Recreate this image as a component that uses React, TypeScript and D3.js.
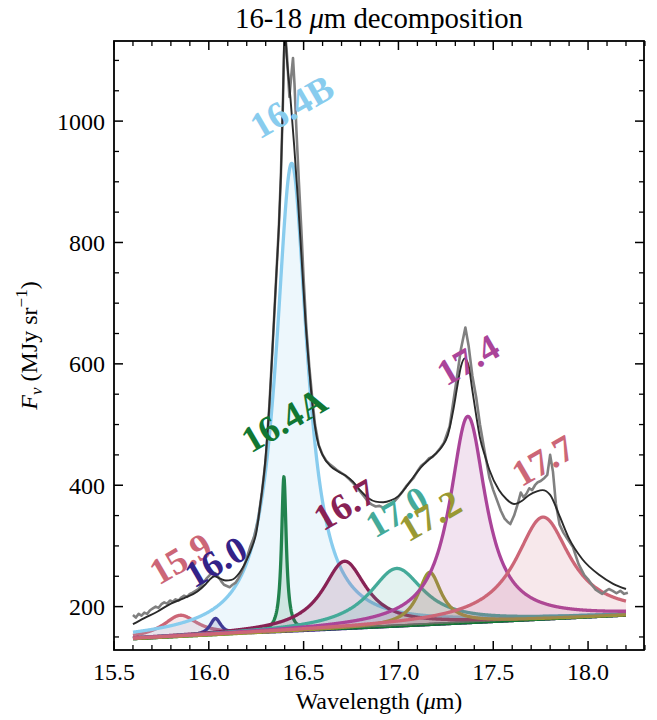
import React from 'react';
import * as d3 from 'd3';

// ---------- data ----------
const componentLabels = ['15.9', '16.0', '16.4A', '16.4B', '16.7', '17.0', '17.2', '17.4', '17.7'];
const componentCenters = [15.85, 16.035, 16.396, 16.437, 16.716, 16.99, 17.165, 17.366, 17.762];
const componentFwhm = [0.22, 0.07, 0.03, 0.2, 0.28, 0.35, 0.15, 0.23, 0.35];
const componentPeaks = [35, 27, 255, 771, 111, 95, 86, 340, 168];
const componentColors = ['#CC6677', '#332288', '#117733', '#88CCEE', '#882255', '#44AA99', '#999933', '#AA4499', '#CC6677'];

const continuumWavelengths = [15.6, 18.2];
const continuumValues = [147, 186];

const modelWavelengths = [
  15.6, 15.66, 15.73, 15.8, 15.87, 15.94, 15.98, 16.0, 16.03, 16.06, 16.09, 16.12, 16.16, 16.2, 16.23, 16.25,
  16.27, 16.295, 16.32, 16.34, 16.355, 16.37, 16.38, 16.39, 16.4, 16.41, 16.43, 16.45, 16.47, 16.49, 16.51,
  16.53, 16.55, 16.57, 16.6, 16.64, 16.68, 16.72, 16.76, 16.8, 16.84, 16.88, 16.92, 16.96, 17.0, 17.04, 17.08,
  17.12, 17.16, 17.2, 17.23, 17.26, 17.29, 17.31, 17.33, 17.35, 17.37, 17.39, 17.41, 17.43, 17.46, 17.48,
  17.53, 17.57, 17.61, 17.65, 17.69, 17.73, 17.76, 17.8, 17.85, 17.9, 17.97, 18.06, 18.13, 18.2,
];
const modelValues = [
  171, 181, 192, 205, 214, 225, 236, 243, 250, 246, 243, 244, 255, 277, 300, 321,
  365, 431, 535, 650, 740, 830, 910, 1020, 1160, 1110, 1040, 960, 870, 770, 670,
  590, 522, 478, 450, 432, 423, 416, 406, 391, 379, 373, 372, 375, 382, 397, 414,
  430, 442, 453, 464, 482, 525, 562, 596, 609, 597, 556, 515, 478, 445, 425,
  392, 377, 369, 374, 384, 390, 392, 384, 349, 312, 278, 252, 238, 229,
];

const dataWavelengths = [
  15.6, 15.615, 15.63, 15.645, 15.66, 15.675, 15.69, 15.705, 15.72, 15.735, 15.75, 15.765, 15.78, 15.795, 15.81,
  15.825, 15.84, 15.855, 15.87, 15.885, 15.9, 15.915, 15.93, 15.945, 15.96, 15.975, 15.99, 16.005, 16.02, 16.035,
  16.05, 16.065, 16.08, 16.095, 16.11, 16.125, 16.14, 16.155, 16.17, 16.185, 16.2, 16.22, 16.24, 16.26, 16.28,
  16.3, 16.32, 16.34, 16.355, 16.37, 16.38, 16.39, 16.4, 16.41, 16.425, 16.435, 16.444, 16.452, 16.462, 16.475,
  16.488, 16.5, 16.514, 16.53, 16.545, 16.56, 16.58, 16.6, 16.62, 16.64, 16.66, 16.68, 16.7, 16.72, 16.74, 16.76,
  16.78, 16.8, 16.82, 16.84, 16.86, 16.88, 16.9, 16.92, 16.94, 16.96, 16.98, 17.0, 17.02, 17.04, 17.06, 17.08,
  17.1, 17.12, 17.14, 17.16, 17.18, 17.2, 17.22, 17.24, 17.27, 17.3, 17.33, 17.353, 17.37, 17.39, 17.41, 17.43,
  17.455, 17.48, 17.5, 17.52, 17.54, 17.56, 17.575, 17.59, 17.61, 17.63, 17.645, 17.66, 17.675, 17.69, 17.705,
  17.72, 17.735, 17.75, 17.77, 17.785, 17.8, 17.815, 17.83, 17.85, 17.87, 17.89, 17.92, 17.95, 17.98, 18.0, 18.02,
  18.04, 18.06, 18.075, 18.09, 18.11, 18.13, 18.15, 18.17, 18.19, 18.21,
];
const dataValues = [
  186, 182, 188, 185, 190, 188, 194, 197, 200, 198, 204, 207, 205, 210, 208,
  212, 210, 215, 218, 216, 221, 223, 226, 229, 235, 241, 247, 252, 256, 255,
  249, 242, 236, 234, 232, 236, 239, 246, 255, 266, 280, 300, 316, 343, 388,
  442, 535, 650, 740, 830, 910, 1020, 1150, 1120, 1040, 1075, 1104, 1060, 985, 900,
  821, 740, 660, 595, 545, 500, 466, 450, 440, 434, 429, 424, 420, 416, 410, 404,
  396, 389, 381, 373, 368, 365, 366, 363, 367, 369, 374, 381, 389, 398, 405, 412,
  423, 432, 437, 444, 447, 453, 461, 470, 497, 560, 625, 660, 630, 580, 545, 500,
  455, 412, 392, 375, 358, 345, 340, 336, 350, 370, 388, 380, 386, 395, 392,
  400, 405, 407, 412, 417, 450, 422, 370, 335, 322, 312, 298, 270, 252, 245, 236,
  228, 224, 221, 225, 229, 226, 222, 226, 221, 223,
];

const xMajorTicks = [15.5, 16.0, 16.5, 17.0, 17.5, 18.0];
const yMajorTicks = [200, 400, 600, 800, 1000];

// ---------- layout ----------
const W = 657;
const H = 720;
const M = { left: 114, right: 644, top: 41, bottom: 650 };
const FONT = '"Liberation Serif", "Times New Roman", serif';

export default function App() {
  const x = d3.scaleLinear().domain([15.5, 18.295]).range([M.left, M.right]);
  const y = d3.scaleLinear().domain([128.5, 1132]).range([M.bottom, M.top]);
  const cont = d3.scaleLinear().domain(continuumWavelengths).range(continuumValues);

  const grid = d3.range(continuumWavelengths[0], continuumWavelengths[1] + 1e-9, 0.002);

  const components = componentLabels.map((label, i) => {
    const c = componentCenters[i];
    const hw = componentFwhm[i] / 2;
    const a = componentPeaks[i];
    const pts = grid.map((w) => ({ w, base: cont(w), v: cont(w) + a / (1 + ((w - c) / hw) ** 2) }));
    return { label, color: componentColors[i], pts, c, top: cont(c) + a };
  });

  const lineGen = d3
    .line<{ w: number; v: number }>()
    .x((d) => x(d.w))
    .y((d) => y(d.v));
  const areaGen = d3
    .area<{ w: number; v: number; base: number }>()
    .x((d) => x(d.w))
    .y0((d) => y(d.base))
    .y1((d) => y(d.v));

  const modelPts = modelWavelengths.map((w, i) => ({ w, v: modelValues[i] }));
  const dataPts = dataWavelengths.map((w, i) => ({ w, v: dataValues[i] }));
  const modelLine = d3
    .line<{ w: number; v: number }>()
    .x((d) => x(d.w))
    .y((d) => y(d.v))
    .curve(d3.curveMonotoneX);

  const xMinor = d3.range(15.5, 18.3, 0.1).filter((t) => !xMajorTicks.some((m) => Math.abs(m - t) < 1e-6));
  const yMinor = d3.range(150, 1132, 50).filter((t) => t % 200 !== 0);

  const majorLen = 9;
  const minorLen = 5;
  const txt = { fontFamily: FONT } as React.CSSProperties;

  return (
    <svg width={W} height={H} style={{ position: 'absolute', left: 0, top: 0, background: '#fff' }}>
      <defs>
        <clipPath id="plotClip">
          <rect x={M.left} y={M.top} width={M.right - M.left} height={M.bottom - M.top} />
        </clipPath>
      </defs>
      <rect x={0} y={0} width={W} height={H} fill="#fff" />

      <g clipPath="url(#plotClip)">
        {components.map((comp, i) => (
          <g key={'c' + i}>
            <path d={areaGen(comp.pts) || ''} fill={comp.color} fillOpacity={0.15} stroke="none" />
            <path d={lineGen(comp.pts) || ''} fill="none" stroke={comp.color} strokeWidth={3.3} strokeLinejoin="round" />
          </g>
        ))}
        <path d={lineGen(dataPts) || ''} fill="none" stroke="#808080" strokeWidth={2.6} strokeLinejoin="round" />
        <path d={modelLine(modelPts) || ''} fill="none" stroke="#2a2a2a" strokeWidth={1.9} />
      </g>

      {/* component labels */}
      {components.map((comp, i) => (
        <text
          key={'l' + i}
          transform={`translate(${x(comp.c)},${y(comp.top) - 57}) rotate(-30)`}
          textAnchor="middle"
          dy="0.35em"
          fontSize={37}
          fontWeight="bold"
          fill={comp.color}
          style={txt}
        >
          {comp.label}
        </text>
      ))}

      {/* frame */}
      <rect
        x={M.left}
        y={M.top}
        width={M.right - M.left}
        height={M.bottom - M.top}
        fill="none"
        stroke="#000"
        strokeWidth={1.8}
      />

      {/* x ticks */}
      {xMajorTicks.map((t) => (
        <g key={'xm' + t}>
          <line x1={x(t)} x2={x(t)} y1={M.bottom} y2={M.bottom - majorLen} stroke="#000" strokeWidth={1.5} />
          <line x1={x(t)} x2={x(t)} y1={M.top} y2={M.top + majorLen} stroke="#000" strokeWidth={1.5} />
          <text x={x(t)} y={680} textAnchor="middle" fontSize={24} fill="#000" style={txt}>
            {t.toFixed(1)}
          </text>
        </g>
      ))}
      {xMinor.map((t) => (
        <g key={'xn' + t}>
          <line x1={x(t)} x2={x(t)} y1={M.bottom} y2={M.bottom - minorLen} stroke="#000" strokeWidth={1.3} />
          <line x1={x(t)} x2={x(t)} y1={M.top} y2={M.top + minorLen} stroke="#000" strokeWidth={1.3} />
        </g>
      ))}

      {/* y ticks */}
      {yMajorTicks.map((t) => (
        <g key={'ym' + t}>
          <line x1={M.left} x2={M.left + majorLen} y1={y(t)} y2={y(t)} stroke="#000" strokeWidth={1.5} />
          <line x1={M.right} x2={M.right - majorLen} y1={y(t)} y2={y(t)} stroke="#000" strokeWidth={1.5} />
          <text x={M.left - 9} y={y(t)} dy="0.35em" textAnchor="end" fontSize={24} fill="#000" style={txt}>
            {t}
          </text>
        </g>
      ))}
      {yMinor.map((t) => (
        <g key={'yn' + t}>
          <line x1={M.left} x2={M.left + minorLen} y1={y(t)} y2={y(t)} stroke="#000" strokeWidth={1.3} />
          <line x1={M.right} x2={M.right - minorLen} y1={y(t)} y2={y(t)} stroke="#000" strokeWidth={1.3} />
        </g>
      ))}

      {/* axis labels */}
      <text x={(M.left + M.right) / 2} y={709} textAnchor="middle" fontSize={24} fill="#000" style={txt}>
        Wavelength (<tspan fontStyle="italic">μ</tspan>m)
      </text>
      <text
        transform={`translate(37,${(M.top + M.bottom) / 2}) rotate(-90)`}
        textAnchor="middle"
        fontSize={24}
        fill="#000"
        style={txt}
      >
        <tspan fontStyle="italic">F</tspan>
        <tspan fontStyle="italic" fontSize={17} dy={5}>ν</tspan>
        <tspan dy={-5}> (MJy sr</tspan>
        <tspan fontSize={17} dy={-10}>−1</tspan>
        <tspan dy={10}>)</tspan>
      </text>

      {/* title */}
      <text x={(M.left + M.right) / 2} y={28} textAnchor="middle" fontSize={28.8} fill="#000" style={txt}>
        16-18 <tspan fontStyle="italic">μ</tspan>m decomposition
      </text>
    </svg>
  );
}
